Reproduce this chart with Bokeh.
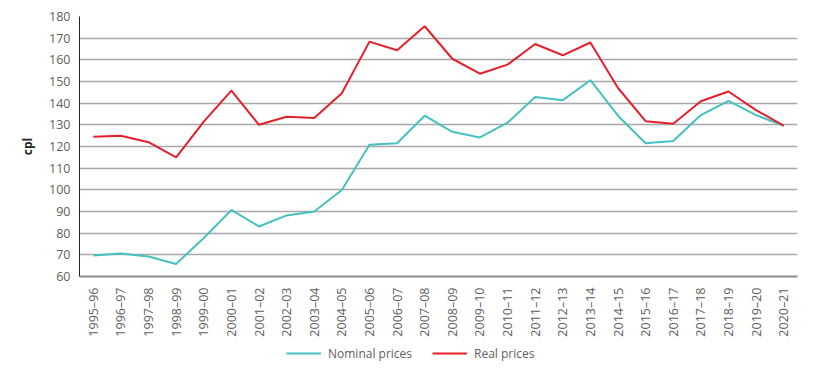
from bokeh.plotting import figure
from bokeh.models import ColumnDataSource, Legend, LegendItem, FixedTicker
from bokeh.layouts import column
from bokeh.embed import file_html
from bokeh.resources import INLINE
import math

years = ["1995–96", "1996–97", "1997–98", "1998–99", "1999–00", "2000–01", "2001–02",
         "2002–03", "2003–04", "2004–05", "2005–06", "2006–07", "2007–08", "2008–09",
         "2009–10", "2010–11", "2011–12", "2012–13", "2013–14", "2014–15", "2015–16",
         "2016–17", "2017–18", "2018–19", "2019–20", "2020–21"]
nominal = [69.7, 70.6, 69.2, 65.8, 77.8, 90.7, 83.1, 88.2, 90.0, 99.9, 120.8, 121.5, 134.2,
           126.8, 124.2, 131.0, 142.8, 141.4, 150.6, 134.2, 121.5, 122.5, 134.5, 141.1,
           134.5, 129.6]
real = [124.5, 125.0, 122.0, 115.0, 131.5, 145.8, 130.0, 133.7, 133.1, 144.6, 168.4, 164.4,
        175.5, 160.5, 153.6, 157.8, 167.3, 162.1, 168.0, 147.0, 131.7, 130.5, 140.9, 145.4,
        136.8, 129.6]
y_ticks = [60, 70, 80, 90, 100, 110, 120, 130, 140, 150, 160, 170, 180]
series_names = ["Nominal prices", "Real prices"]

FONT = "Open Sans"
GRAY = "#606060"
CYAN = "#45c1c1"
RED = "#e3202c"

src = ColumnDataSource(dict(x=years, nominal=nominal, real=real))

p = figure(x_range=years, y_range=(60, 180), width=823, height=339,
           output_backend="svg", toolbar_location=None,
           min_border_left=79, min_border_right=26, min_border_top=16,
           min_border_bottom=62)
p.outline_line_color = None

p.line("x", "nominal", source=src, line_color=CYAN, line_width=2)
p.line("x", "real", source=src, line_color=RED, line_width=2)

p.yaxis.ticker = FixedTicker(ticks=y_ticks)
p.yaxis.axis_label = "cpl"
p.yaxis.axis_label_text_font = FONT
p.yaxis.axis_label_text_font_style = "bold"
p.yaxis.axis_label_text_font_size = "12px"
p.yaxis.axis_label_text_color = "#222222"
p.yaxis.axis_label_standoff = 10
p.yaxis.major_label_text_font = FONT
p.yaxis.major_label_text_font_size = "12.5px"
p.yaxis.major_label_text_color = GRAY
p.yaxis.major_tick_line_color = None
p.yaxis.major_tick_out = 0
p.yaxis.minor_tick_line_color = None
p.yaxis.minor_tick_out = 0
p.yaxis.axis_line_color = "#222222"
p.yaxis.major_label_standoff = 9

p.xaxis.major_label_orientation = math.pi / 2
p.xaxis.major_label_text_font = FONT
p.xaxis.major_label_text_font_size = "12.5px"
p.xaxis.major_label_text_color = GRAY
p.xaxis.major_tick_line_color = None
p.xaxis.axis_line_color = "#8c8c8c"
p.xaxis.axis_line_width = 2
p.xaxis.major_label_standoff = 5

p.xgrid.grid_line_color = None
p.ygrid.grid_line_color = "#a8a8a8"
p.ygrid.grid_line_width = 1.3

# legend strip (lines drawn outside its visible range; only the legend shows)
lg = figure(width=823, height=30, x_range=(0, 1), y_range=(0, 1),
            output_backend="svg", toolbar_location=None,
            min_border_left=0, min_border_right=0, min_border_top=0, min_border_bottom=0)
lg.axis.visible = False
lg.grid.visible = False
lg.outline_line_color = None
rn = lg.line(x=[5, 6], y=[5, 6], line_color=CYAN, line_width=2)
rr = lg.line(x=[5, 6], y=[5, 6], line_color=RED, line_width=2)
legend = Legend(items=[LegendItem(label=series_names[0], renderers=[rn]),
                       LegendItem(label=series_names[1], renderers=[rr])],
                orientation="horizontal", location=(207, 6),
                label_text_font=FONT, label_text_font_size="12px",
                label_text_color=GRAY, glyph_width=35, label_standoff=7,
                spacing=20, border_line_color=None, background_fill_alpha=0,
                padding=2, margin=0)
lg.add_layout(legend)

layout = column(p, lg, spacing=0)
open("out.html", "w").write(file_html(layout, INLINE))
